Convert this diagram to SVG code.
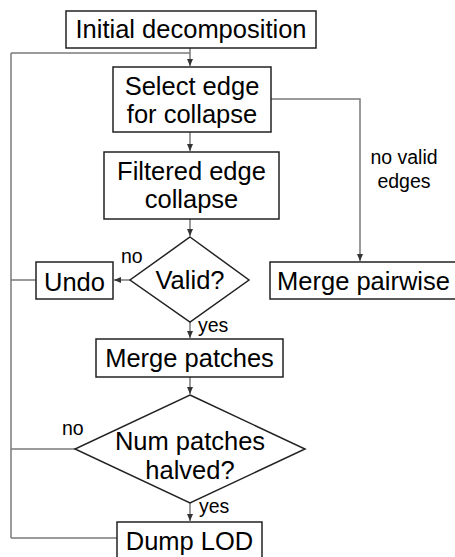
<svg xmlns="http://www.w3.org/2000/svg" width="455" height="557" viewBox="0 0 455 557">
<style>
.box{fill:#fff;stroke:#222;stroke-width:1.5}
.t{font-family:"Liberation Sans",Arial,sans-serif;font-size:25.5px;fill:#000;text-anchor:middle}
.l{font-family:"Liberation Sans",Arial,sans-serif;font-size:19.5px;fill:#000}
.c{fill:none;stroke:#7a7a7a;stroke-width:1.5}
</style>
<defs>
<marker id="ah" markerWidth="8" markerHeight="8" refX="7" refY="4" orient="auto" markerUnits="userSpaceOnUse">
<path d="M0,1 L7,4 L0,7 Z" fill="#333"/>
</marker>
</defs>
<rect width="455" height="557" fill="#fff"/>
<g id="connectors">
<path class="c" d="M190,48 V66" marker-end="url(#ah)"/>
<path class="c" d="M11,53 H190"/>
<path class="c" d="M11,53 V538"/>
<path class="c" d="M190,132 V151" marker-end="url(#ah)"/>
<path class="c" d="M271,99 H360 V261" marker-end="url(#ah)"/>
<path class="c" d="M190,219 V236" marker-end="url(#ah)"/>
<path class="c" d="M130,280 H114" marker-end="url(#ah)"/>
<path class="c" d="M36,280 H11"/>
<path class="c" d="M190,322 V338" marker-end="url(#ah)"/>
<path class="c" d="M190,377 V394" marker-end="url(#ah)"/>
<path class="c" d="M75,449 H11"/>
<path class="c" d="M190,503 V521" marker-end="url(#ah)"/>
<path class="c" d="M117,538 H11"/>
<text class="l" x="404" y="164" text-anchor="middle">no valid</text>
<text class="l" x="404" y="188" text-anchor="middle">edges</text>
<text class="l" x="121" y="263">no</text>
<text class="l" x="198" y="332">yes</text>
<text class="l" x="62" y="435">no</text>
<text class="l" x="199" y="513">yes</text>
</g>
<g id="initial">
<rect class="box" x="66" y="11" width="250" height="37"/>
<text class="t" x="191" y="38">Initial decomposition</text>
</g>
<g id="select">
<rect class="box" x="113" y="67" width="158" height="65"/>
<text class="t" x="192" y="95">Select edge</text>
<text class="t" x="192" y="123">for collapse</text>
</g>
<g id="filtered">
<rect class="box" x="104" y="152" width="175" height="67"/>
<text class="t" x="191.5" y="180">Filtered edge</text>
<text class="t" x="191.5" y="208">collapse</text>
</g>
<g id="valid">
<polygon class="box" points="190,237 249,280 190,322 130,280"/>
<text class="t" x="190" y="289">Valid?</text>
</g>
<g id="undo">
<rect class="box" x="36" y="262" width="77" height="37"/>
<text class="t" x="74.5" y="291">Undo</text>
</g>
<g id="mergepairwise">
<rect class="box" x="270" y="262" width="190" height="37"/>
<text class="t" x="363.5" y="290">Merge pairwise</text>
</g>
<g id="mergepatches">
<rect class="box" x="96" y="339" width="187" height="38"/>
<text class="t" x="189.5" y="367">Merge patches</text>
</g>
<g id="numpatches">
<polygon class="box" points="190,395 305,449 190,503 75,449"/>
<text class="t" x="190" y="450">Num patches</text>
<text class="t" x="190" y="479">halved?</text>
</g>
<g id="dumplod">
<rect class="box" x="117" y="522" width="145" height="45"/>
<text class="t" x="189.5" y="550">Dump LOD</text>
</g>
</svg>
